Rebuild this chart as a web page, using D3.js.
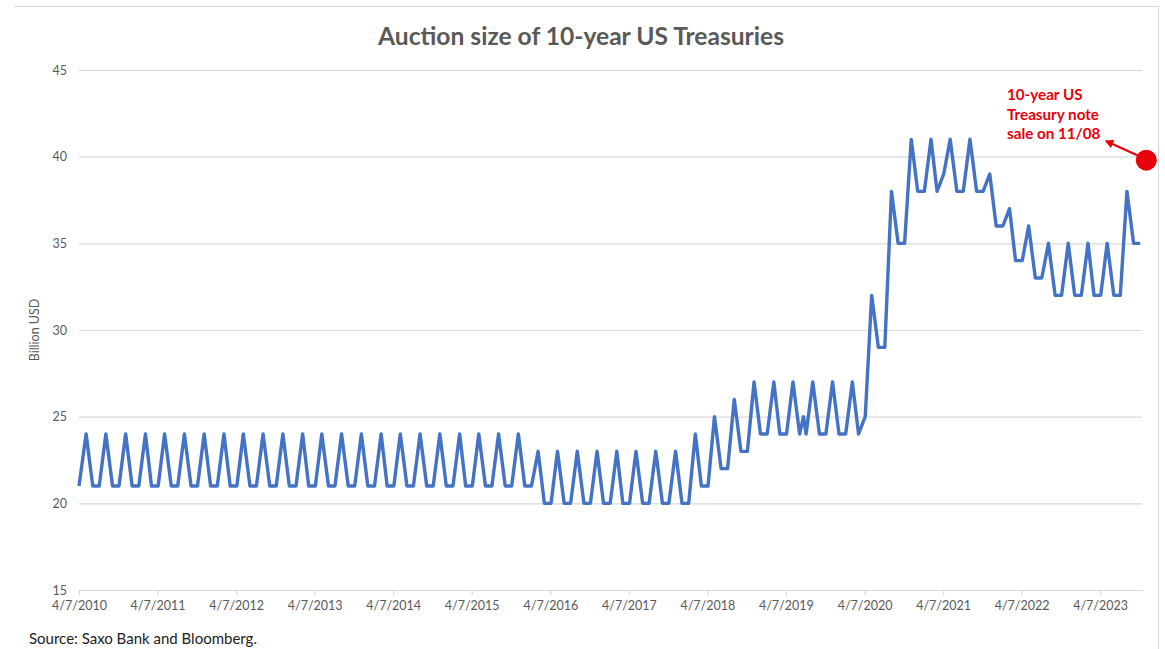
<!DOCTYPE html>
<html>
<head>
<meta charset="utf-8">
<script src="https://cdn.jsdelivr.net/npm/d3@7"></script>
<style>
  body { margin: 0; background: #fff; }
  svg { display: block; font-family: Lato, "Open Sans", sans-serif; }
</style>
</head>
<body>
<svg id="chart" width="1165" height="649"></svg>
<script>
// ---- text ----
const chartTitle = "Auction size of 10-year US Treasuries";
const yAxisTitle = "Billion USD";
const sourceNote = "Source: Saxo Bank and Bloomberg.";
const noteLines = ["10-year US", "Treasury note", "sale on 11/08"];

// ---- monthly 10-year auction sizes, billion USD ----
const firstAuction = "2010-04-07";
const lastMonth = "2023-10-01";
const sizes2010 = [21, 24, 21, 21, 24, 21, 21, 24, 21];              // Apr–Dec
const sizes2011 = [21, 24, 21, 21, 24, 21, 21, 24, 21, 21, 24, 21];
const sizes2012 = [21, 24, 21, 21, 24, 21, 21, 24, 21, 21, 24, 21];
const sizes2013 = [21, 24, 21, 21, 24, 21, 21, 24, 21, 21, 24, 21];
const sizes2014 = [21, 24, 21, 21, 24, 21, 21, 24, 21, 21, 24, 21];
const sizes2015 = [21, 24, 21, 21, 24, 21, 21, 24, 21, 21, 24, 21];
const sizes2016 = [21, 23, 20, 20, 23, 20, 20, 23, 20, 20, 23, 20];
const sizes2017 = [20, 23, 20, 20, 23, 20, 20, 23, 20, 20, 23, 20];
const sizes2018 = [20, 24, 21, 21, 25, 22, 22, 26, 23, 23, 27, 24];
const sizes2019 = [24, 27, 24, 24, 27, 24, 24, 27, 24, 24, 27, 24];
const sizes2020 = [24, 27, 24, 25, 32, 29, 29, 38, 35, 35, 41, 38];
const sizes2021 = [38, 41, 38, 39, 41, 38, 38, 41, 38, 38, 39, 36];
const sizes2022 = [36, 37, 34, 34, 36, 33, 33, 35, 32, 32, 35, 32];
const sizes2023 = [32, 35, 32, 32, 35, 32, 32, 38, 35, 35];          // Jan–Oct

// one additional mid-month point in 2019
const extraAuctionDate = "2019-06-28";
const extraAuctionSize = 25;

// highlighted upcoming sale
const nextSaleDate = "2023-11-08";
const nextSaleSize = 39.8;

// ---- axes ----
const yTicks = [15, 20, 25, 30, 35, 40, 45];
const xTickDates = ["2010-04-07", "2011-04-07", "2012-04-07", "2013-04-07", "2014-04-07",
  "2015-04-07", "2016-04-07", "2017-04-07", "2018-04-07", "2019-04-07", "2020-04-07",
  "2021-04-07", "2022-04-07", "2023-04-07"];
const xDomainDates = ["2010-04-07", "2023-10-19"];

// ---- build series ----
const parse = d3.timeParse("%Y-%m-%d");
const allSizes = [].concat(sizes2010, sizes2011, sizes2012, sizes2013, sizes2014, sizes2015,
  sizes2016, sizes2017, sizes2018, sizes2019, sizes2020, sizes2021, sizes2022, sizes2023);
const months = d3.timeMonth.range(parse("2010-04-01"), d3.timeMonth.offset(parse(lastMonth), 1));
const series = months.map((m, i) => ({
  date: i === 0 ? parse(firstAuction) : d3.timeDay.offset(m, 9),
  value: allSizes[i]
}));
series.push({ date: parse(extraAuctionDate), value: extraAuctionSize });
series.sort((a, b) => a.date - b.date);

// ---- layout ----
const svg = d3.select("#chart");
const plot = { left: 79, right: 1142, top: 70, bottom: 590 };
const gridColor = "#d9d9d9";
const textGray = "#595959";

const x = d3.scaleTime().domain(xDomainDates.map(parse)).range([plot.left, plot.right]);
const y = d3.scaleLinear().domain([15, 45]).range([plot.bottom, plot.top]);

svg.append("rect").attr("width", 1165).attr("height", 649).attr("fill", "#fff");

// outer frame (top and right edges)
svg.append("path")
  .attr("d", "M14,6.5H1158.5V649")
  .attr("fill", "none").attr("stroke", gridColor).attr("stroke-width", 1.2);

// title
svg.append("text")
  .attr("x", 581).attr("y", 45)
  .attr("text-anchor", "middle")
  .attr("font-size", 24.6).attr("font-weight", 700)
  .attr("fill", textGray)
  .text(chartTitle);

// horizontal gridlines + y labels
const yAxis = d3.axisLeft(y).tickValues(yTicks).tickSize(0).tickPadding(12);
const gy = svg.append("g").attr("transform", `translate(${plot.left},0)`).call(yAxis);
gy.select(".domain").remove();
gy.selectAll(".tick text").attr("font-size", 12.5).attr("fill", textGray)
  .attr("font-family", "Lato, 'Open Sans', sans-serif");
gy.selectAll(".tick").append("line")
  .attr("x1", 0).attr("x2", plot.right - plot.left)
  .attr("stroke", gridColor).attr("stroke-width", 1.2);

// x axis with yearly ticks
const xAxis = d3.axisBottom(x)
  .tickValues(xTickDates.map(parse))
  .tickFormat(d3.timeFormat("%-m/%-d/%Y"))
  .tickSize(5).tickSizeOuter(0).tickPadding(6);
const gx = svg.append("g").attr("transform", `translate(0,${plot.bottom})`).call(xAxis);
gx.select(".domain").attr("stroke", gridColor).attr("stroke-width", 1.2);
gx.selectAll(".tick line").attr("stroke", gridColor).attr("stroke-width", 1.2);
gx.selectAll(".tick text").attr("font-size", 12.5).attr("fill", textGray)
  .attr("font-family", "Lato, 'Open Sans', sans-serif");

// y axis title
svg.append("text")
  .attr("transform", `translate(39,${(plot.top + plot.bottom) / 2}) rotate(-90)`)
  .attr("text-anchor", "middle")
  .attr("font-size", 12.5).attr("fill", textGray)
  .text(yAxisTitle);

// auction size line
const line = d3.line().x(d => x(d.date)).y(d => y(d.value));
svg.append("path")
  .datum(series)
  .attr("d", line)
  .attr("fill", "none")
  .attr("stroke", "#4472c4")
  .attr("stroke-width", 3.4)
  .attr("stroke-linejoin", "round");

// highlighted next sale: dot, arrow and note
const red = "#e8000b";
const dotX = x(parse(nextSaleDate));
const dotY = y(nextSaleSize);
svg.append("circle").attr("cx", dotX).attr("cy", dotY).attr("r", 10.5).attr("fill", red);

svg.append("defs").append("marker")
  .attr("id", "arrowHead").attr("viewBox", "0 0 10 10")
  .attr("refX", 8).attr("refY", 5)
  .attr("markerWidth", 4).attr("markerHeight", 4)
  .attr("orient", "auto")
  .append("path").attr("d", "M0,0L10,5L0,10z").attr("fill", red);

svg.append("line")
  .attr("x1", dotX - 9).attr("y1", dotY - 5)
  .attr("x2", dotX - 40).attr("y2", dotY - 19)
  .attr("stroke", red).attr("stroke-width", 2.2)
  .attr("marker-end", "url(#arrowHead)");

svg.append("text")
  .attr("x", 1007).attr("y", 100)
  .attr("font-size", 15.2).attr("font-weight", 700).attr("fill", red)
  .selectAll("tspan").data(noteLines).join("tspan")
  .attr("x", 1007).attr("dy", (d, i) => i === 0 ? 0 : 19.5)
  .text(d => d);

// source
svg.append("text")
  .attr("x", 29).attr("y", 644)
  .attr("font-size", 15).attr("fill", "#222")
  .text(sourceNote);
</script>
</body>
</html>
